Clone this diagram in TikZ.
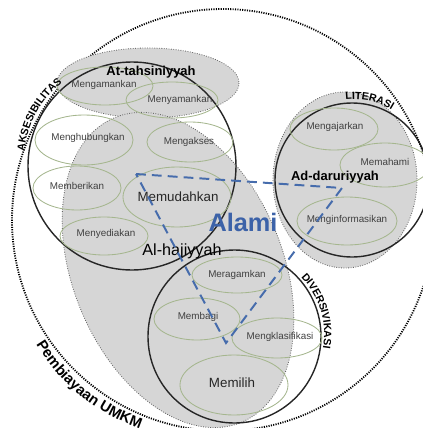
\documentclass[tikz,border=0pt]{standalone}
\usepackage{fontspec}
\setmainfont{Liberation Sans}
\colorlet{ZoneFill}{black!16}
\colorlet{ZoneLine}{black!60}
\definecolor{OvalLine}{RGB}{165,182,142}
\definecolor{AlamiBlue}{RGB}{60,98,168}
\definecolor{TriangleBlue}{RGB}{70,108,172}
\usetikzlibrary{decorations.text}

\tikzset{
  outer/.style={draw=black, line width=1.3pt, dash pattern=on 0.8pt off 0.9pt},
  zone/.style={fill=ZoneFill, draw=ZoneLine, line width=0.6pt, dash pattern=on 0.6pt off 1.1pt},
  ring/.style={draw=black!85, line width=1pt},
  oval/.style={draw=OvalLine, line width=0.6pt},
  small/.style={font=\fontsize{7}{8}\selectfont, text=black!75, inner sep=0pt},
  big/.style={font=\fontsize{9.5}{11}\selectfont, text=black!85, inner sep=0pt},
  title/.style={font=\bfseries\fontsize{9.2}{11}\selectfont, inner sep=0pt},
  ringlabel/.style={decorate, decoration={text along path, text align=center,
      text={|\bfseries\fontsize{7.5}{9}\selectfont|#1}}},
  framelabel/.style={decorate, decoration={text along path, text align=center,
      text={|\bfseries\fontsize{10.5}{12}\selectfont|#1}}},
  alamiline/.style={draw=TriangleBlue, line width=1.4pt, dash pattern=on 7pt off 4.3pt},
}

\begin{document}
\begin{tikzpicture}[x=0.025cm, y=-0.025cm]
\useasboundingbox (0,0) rectangle (422,428);

% Pembiayaan UMKM
\draw [outer] (223,220) circle [radius=211];

% maqasid zones
\draw [zone] (148,83) ellipse [x radius=91, y radius=35];
\draw [zone, rotate around={-67.4:(178,270)}] (178,270) ellipse [x radius=165, y radius=105];
\draw [zone] (345,180) ellipse [x radius=72, y radius=88];

% the three rings
\draw [ring] (132,166) circle [radius=104];
\draw [ring] (352,180) circle [radius=77];
\draw [ring] (234.5,336.5) circle [radius=86.5];

% ovals
\draw [oval] (105,86) ellipse [x radius=48, y radius=19];
\node [small] (mengamankan) at (104,85) {Mengamankan};
\draw [oval] (172,100) ellipse [x radius=46, y radius=18];
\node [small] (menyamankan) at (180,100) {Menyamankan};
\draw [oval] (84,140) ellipse [x radius=49, y radius=25];
\node [small] (menghubungkan) at (88,138) {Menghubungkan};
\draw [oval] (190,142) ellipse [x radius=43, y radius=20];
\node [small] (mengakses) at (189,142) {Mengakses};
\draw [oval] (77,188) ellipse [x radius=44, y radius=22];
\node [small] (memberikan) at (77,186) {Memberikan};
\draw [oval] (104,236) ellipse [x radius=44, y radius=19];
\node [small] (menyediakan) at (106,234) {Menyediakan};
\draw [oval] (177,197) ellipse [x radius=54, y radius=30];
\node [big] (memudahkan) at (178,197) {Memudahkan};
\draw [oval] (237,275) ellipse [x radius=45, y radius=18];
\node [small] (meragamkan) at (237,275) {Meragamkan};
\draw [oval] (197,319) ellipse [x radius=43, y radius=21];
\node [small] (membagi) at (198,317) {Membagi};
\draw [oval] (277,338) ellipse [x radius=45, y radius=20];
\node [small] (mengklasifikasi) at (280,337) {Mengklasifikasi};
\draw [oval] (234,385) ellipse [x radius=54, y radius=30];
\node [big] (memilih) at (232,383) {Memilih};
\draw [oval] (334,129) ellipse [x radius=44, y radius=21];
\node [small] (mengajarkan) at (335,127) {Mengajarkan};
\draw [oval] (385,165) ellipse [x radius=45, y radius=22];
\node [small] (memahami) at (385,162) {Memahami};
\draw [oval] (347,221) ellipse [x radius=50, y radius=24];
\node [small] (menginformasikan) at (347,220) {Menginformasikan};

% zone titles
\node [title] (tahsiniyyah) at (151,72) {At-tahsiniyyah};
\node [title] (daruriyyah) at (335,177) {Ad-daruriyyah};
\node [font=\fontsize{11.5}{13}\selectfont, inner sep=0pt] (hajiyyah) at (182,251) {Al-hajiyyah};

% ring labels
\coordinate (aksesA) at (24.6,177.1);
\coordinate (aksesB) at (84.3,68.8);
\coordinate (literA) at (331.3,102.7);
\coordinate (literB) at (403.4,118.7);
\coordinate (diverA) at (289.3,266.4);
\coordinate (diverB) at (319.1,364);
\coordinate (umkmA) at (21.7,318.2);
\coordinate (umkmB) at (168.8,437.3);
\path [ringlabel=AKSESIBILITAS] (aksesA) to [bend left=35] (aksesB);
\path [ringlabel=LITERASI] (literA) to [bend left=27] (literB);
\path [ringlabel=DIVERSIVIKASI] (diverA) to [bend left=35] (diverB);
\path [framelabel=Pembiayaan UMKM] (umkmA) to [bend right=25] (umkmB);

% Alami
\coordinate (triA) at (136,174);
\coordinate (triB) at (342,188);
\coordinate (triC) at (226,343);
\draw [alamiline] (triA) -- (triB) -- (triC) -- cycle;
\node [font=\bfseries\fontsize{18}{20}\selectfont, text=AlamiBlue, inner sep=0pt] (alami) at (243,222) {Alami};

\end{tikzpicture}
\end{document}
